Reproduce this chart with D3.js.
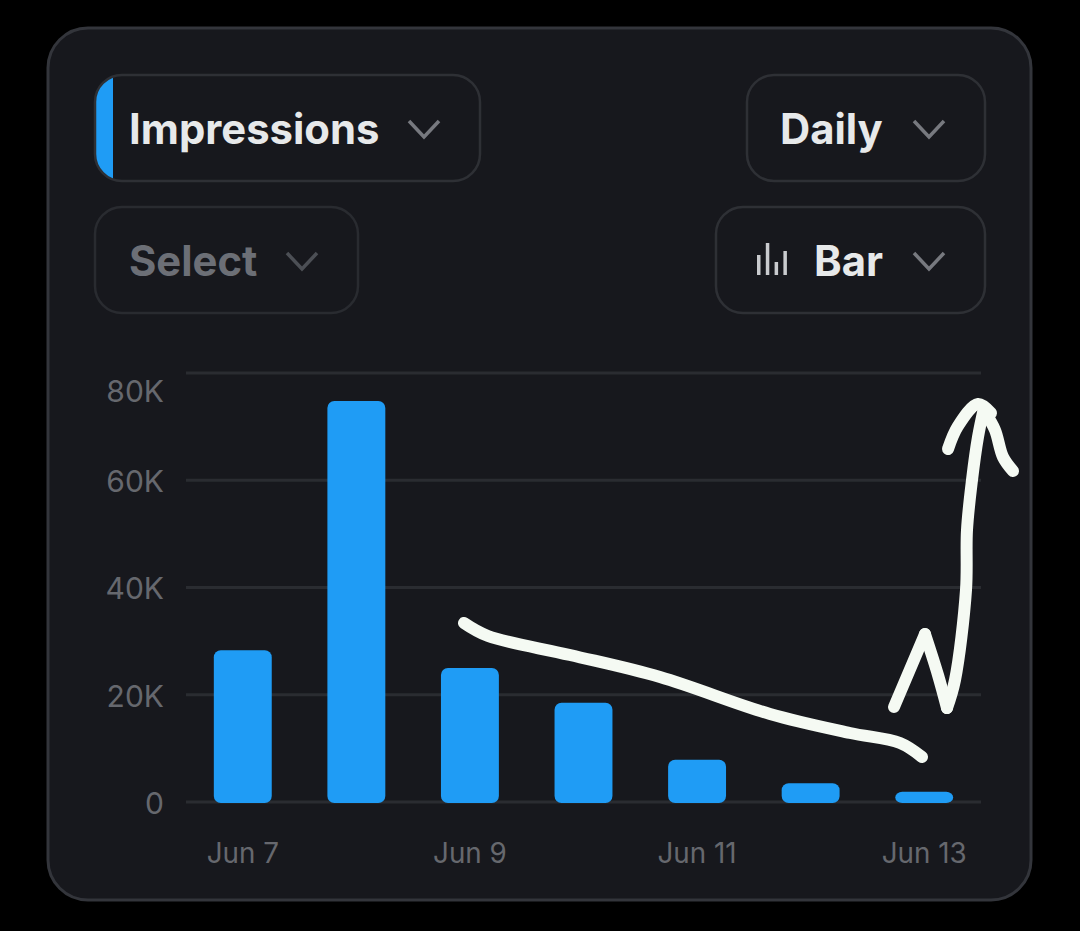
<!DOCTYPE html>
<html>
<head>
<meta charset="utf-8">
<script src="https://cdn.jsdelivr.net/npm/d3@7"></script>
<style>
  html, body { margin: 0; padding: 0; background: #000; }
  svg { display: block; }
  text { font-family: Inter, "Noto Sans", sans-serif; }
</style>
</head>
<body>
<script>
/***********************************************************************************/
// Data

var days = ['Jun 7', 'Jun 8', 'Jun 9', 'Jun 10', 'Jun 11', 'Jun 12', 'Jun 13'];
var impressions = [28300, 74800, 25000, 18500, 7900, 3500, 1900];
var yTicks = [0, 20000, 40000, 60000, 80000];
var xLabels = ['Jun 7', 'Jun 9', 'Jun 11', 'Jun 13'];
var iconBars = [20, 32, 13, 24];

// dropdowns at the top of the card
var pills = [
  { label: 'Impressions', x: 95, y: 75, w: 385, textX: 129, chevX: 424, color: '#e7e9ea', tab: true },
  { label: 'Daily', x: 747, y: 75, w: 238, textX: 780, chevX: 929, color: '#e7e9ea' },
  { label: 'Select', x: 95, y: 207, w: 263, textX: 129, chevX: 302, color: '#6c6f76', dim: true },
  { label: 'Bar', x: 716, y: 207, w: 269, textX: 814, chevX: 929, color: '#e7e9ea', icon: true }
];

// hand drawn pen strokes on top of the picture (screen pixels)
var penTrend = [[464,623],[488,636],[570,655],[660,677],[770,714],[850,733],[900,743],[922,757]];
var penRise = [[894,707],[925,634]];
var penDrop = [[925,634],[938,675],[947,708]];
var penShaft = [[947,708],[955,680],[966,590],[967,530],[972,480],[978,437],[984,408]];
var penHeadLeft = [[948,449],[958,426],[978,404],[991,413]];
var penHeadRight = [[985,412],[995,430],[1003,457],[1013,471]];

/***********************************************************************************/
// Setup

var width = 1080, height = 931;
var svg = d3.select('body').append('svg').attr('width', width).attr('height', height);

svg.append('rect').attr('width', width).attr('height', height).attr('fill', '#000');
svg.append('rect')
  .attr('x', 48).attr('y', 28).attr('width', 983).attr('height', 872).attr('rx', 40)
  .attr('fill', '#17181d').attr('stroke', '#33353b').attr('stroke-width', 3);

var x = d3.scaleBand().domain(days).range([186, 981]).paddingInner(0.49).paddingOuter(0.245);
var y = d3.scaleLinear().domain([0, 80000]).range([802, 373]);

/***********************************************************************************/
// Dropdowns

var chevron = d3.line();
svg.append('clipPath').attr('id', 'tabClip').append('rect')
  .attr('x', 95).attr('y', 75).attr('width', 385).attr('height', 106).attr('rx', 27);

var pill = svg.selectAll('.pill').data(pills).enter().append('g').attr('class', 'pill');

pill.filter(function(d){ return d.tab; }).append('rect')
  .attr('x', function(d){ return d.x; }).attr('y', function(d){ return d.y; })
  .attr('width', 18).attr('height', 106)
  .attr('fill', '#1f9cf5').attr('clip-path', 'url(#tabClip)');

pill.append('rect')
  .attr('x', function(d){ return d.x; }).attr('y', function(d){ return d.y; })
  .attr('width', function(d){ return d.w; }).attr('height', 106).attr('rx', 27)
  .attr('fill', 'none').attr('stroke', function(d){ return d.dim ? '#292b30' : '#2e3035'; }).attr('stroke-width', 2.5);

pill.append('text')
  .attr('x', function(d){ return d.textX; }).attr('y', function(d){ return d.y + 69; })
  .attr('font-size', 41.8).attr('font-weight', 700)
  .attr('fill', function(d){ return d.color; })
  .text(function(d){ return d.label; });

pill.append('path')
  .attr('d', function(d){ var cy = d.y + 54; return chevron([[d.chevX - 15, cy - 8], [d.chevX, cy + 8], [d.chevX + 15, cy - 8]]); })
  .attr('fill', 'none').attr('stroke', function(d){ return d.dim ? '#4c4f55' : '#77797f'; }).attr('stroke-width', 3.5);

// little bars icon in the Bar dropdown
svg.selectAll('.iconbar').data(iconBars).enter().append('rect')
  .attr('class', 'iconbar')
  .attr('x', function(d, i){ return 757 + i * 8.8; })
  .attr('y', function(d){ return 275 - d; })
  .attr('width', 3.5)
  .attr('height', function(d){ return d; })
  .attr('fill', '#c9cbce');

/***********************************************************************************/
// Axes

var yAxis = svg.append('g').attr('transform', 'translate(186,0)')
  .call(d3.axisLeft(y).tickValues(yTicks).tickSize(0).tickPadding(22)
    .tickFormat(function(d){ return d === 0 ? '0' : d / 1000 + 'K'; }));
yAxis.select('.domain').remove();
yAxis.selectAll('text')
  .attr('font-size', 30).attr('fill', '#66686e').style('font-family', 'Inter')
  .attr('dy', function(d){ return d === 80000 ? '0.95em' : '0.38em'; });

svg.selectAll('.grid').data(yTicks).enter().append('line')
  .attr('class', 'grid')
  .attr('x1', 186).attr('x2', 981)
  .attr('y1', function(d){ return y(d); }).attr('y2', function(d){ return y(d); })
  .attr('stroke', '#2a2c31').attr('stroke-width', 3);

var xAxis = svg.append('g').attr('transform', 'translate(0,802)')
  .call(d3.axisBottom(x).tickValues(xLabels).tickSize(0).tickPadding(41.5));
xAxis.select('.domain').remove();
xAxis.selectAll('text')
  .attr('font-size', 27.8).attr('fill', '#66686e').style('font-family', 'Inter');

/***********************************************************************************/
// Bars

svg.selectAll('.bar').data(impressions).enter().append('rect')
  .attr('class', 'bar')
  .attr('x', function(d, i){ return x(days[i]); })
  .attr('y', function(d){ return y(d); })
  .attr('width', x.bandwidth())
  .attr('height', function(d){ return y(0) - y(d) + 1; })
  .attr('rx', 7)
  .attr('fill', '#1f9cf5');

/***********************************************************************************/
// Pen strokes

var pen = d3.line().curve(d3.curveCatmullRom.alpha(0.5));
svg.selectAll('.pen').data([penTrend, penRise, penDrop, penShaft, penHeadLeft, penHeadRight]).enter().append('path')
  .attr('class', 'pen')
  .attr('d', pen)
  .attr('fill', 'none')
  .attr('stroke', '#f5faf3')
  .attr('stroke-width', 12)
  .attr('stroke-linecap', 'round')
  .attr('stroke-linejoin', 'round');
</script>
</body>
</html>
